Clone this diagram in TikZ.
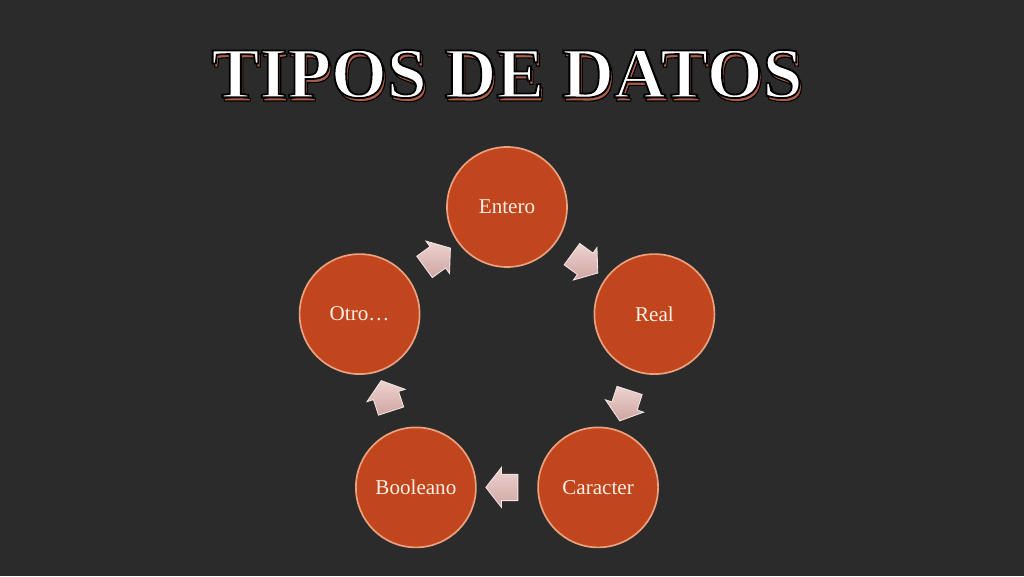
\documentclass[tikz,border=0pt]{standalone}
\usepackage{fontspec}
\setmainfont{Liberation Serif}
\usetikzlibrary{shapes,arrows,positioning,calc}

\definecolor{slidebg}{HTML}{2B2B2B}
\definecolor{discfill}{HTML}{C1461D}
\definecolor{discrim}{HTML}{EBA07E}
\definecolor{disctext}{HTML}{FBEFE6}
\definecolor{flowtop}{HTML}{EDD3D0}
\definecolor{flowbottom}{HTML}{CFA5A2}
\definecolor{flowedge}{HTML}{F6E6E3}
\definecolor{titleshadow}{HTML}{B0604A}

\tikzset{
  disc/.style={circle, minimum size=3cm, inner sep=0pt, fill=discfill, draw=discrim, line width=1.2pt, text=disctext, font=\fontsize{15}{17}\selectfont},
  flow/.style={single arrow, minimum height=0.8cm, inner xsep=0pt, inner ysep=0.32cm, single arrow head extend=0.17cm, single arrow tip angle=104, single arrow head indent=0pt, top color=flowtop, bottom color=flowbottom, draw=flowedge, line width=0.6pt},
  titletext/.style={inner sep=0pt, font=\fontsize{51}{53}\selectfont\bfseries}
}
% outlined letters: fill, then stroke in black
\newcommand{\outlined}[2]{\special{pdf:literal direct 2 Tr #1 w 0 G}#2\special{pdf:literal direct 0 Tr}}

\begin{document}
\begin{tikzpicture}
    % Background
    \fill[slidebg] (0,0) rectangle (25.6,14.4);
    \useasboundingbox (0,0) rectangle (25.6,14.4);

    % Title with shadow
    \coordinate (title) at (12.675,12.55);
    \node[titletext, text=titleshadow] (shadow) at ($(title)+(0.05,-0.09)$) {\outlined{0.8}{TIPOS DE DATOS}};
    \node[titletext, text=white] (head) at (title) {\outlined{1.3}{TIPOS DE DATOS}};

    % Data types on a ring
    \coordinate (hub) at (12.675,5.35);
    \node[disc] (ent) at ($(hub)+(90:3.875)$) {Entero};
    \node[disc] (rea) at ($(hub)+(18:3.875)$) {Real};
    \node[disc] (car) at ($(hub)+(-54:3.875)$) {Caracter};
    \node[disc] (boo) at ($(hub)+(-126:3.875)$) {Booleano};
    \node[disc] (otr) at ($(hub)+(162:3.875)$) {Otro\ldots};

    % Block arrows, clockwise
    \node[flow, rotate=-36] (f1) at ($(ent)!0.5!(rea)$) {};
    \node[flow, rotate=-108] (f2) at ($(rea)!0.5!(car)$) {};
    \node[flow, rotate=180] (f3) at ($(car)!0.5!(boo)$) {};
    \node[flow, rotate=108] (f4) at ($(boo)!0.5!(otr)$) {};
    \node[flow, rotate=36] (f5) at ($(otr)!0.5!(ent)$) {};
\end{tikzpicture}
\end{document}
